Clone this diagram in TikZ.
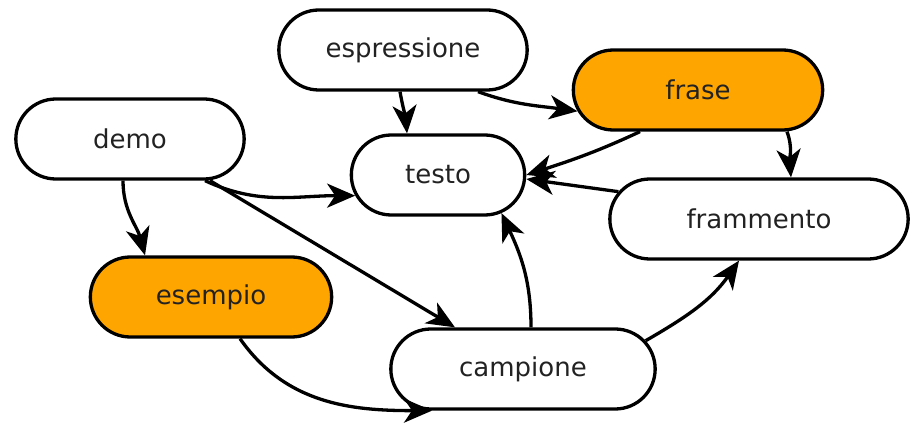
\documentclass[tikz,border=0pt]{standalone}
\usepackage{fontspec}
\setmainfont{DejaVu Sans}
\usetikzlibrary{arrows.meta,shapes.misc}
\definecolor{boxorange}{RGB}{255,165,0}
\definecolor{labelgray}{RGB}{34,34,34}

\begin{document}
\begin{tikzpicture}[x=1pt,y=1pt,
    word/.style={draw,line width=3.3pt,rounded rectangle,minimum height=80pt,
      text=labelgray,font=\fontsize{26}{31}\selectfont,fill=white},
    hot/.style={word,fill=boxorange},
    link/.style={line width=3.3pt,-{Stealth[length=28pt,width=24pt,inset=8pt]}}]
    \useasboundingbox (0,0) rectangle (910,426);% Page size

    \node[word,minimum width=255pt] (espr) at (403,376) {espressione};
    \node[hot,minimum width=256pt] (frase) at (698,336) {frase};
    \node[word,minimum width=235pt] (demo) at (130,287) {demo};
    \node[word,minimum width=180pt] (testo) at (438,251) {testo};
    \node[word,minimum width=305pt] (fram) at (759,207) {frammento};
    \node[hot,minimum width=248pt] (esempio) at (211,129) {esempio};
    \node[word,minimum width=271pt] (camp) at (523,57) {campione};

    % top part
    \draw [link] ([xshift=-3pt]espr.south) to[out=-80,in=95] ([xshift=-31pt]testo.north);
    \draw [link] ([xshift=75pt]espr.south) to[out=-20,in=172] (frase.190);
    \draw [link] ([xshift=-58pt]frase.south) to[out=-155,in=18] (testo.east);
    \draw [link] ([xshift=89pt]frase.south) to[out=-70,in=95] ([xshift=32pt]fram.north);
    \draw [link] (fram.169) -- ([yshift=-4pt]testo.east);

    % from demo
    \draw [link] ([xshift=75pt]demo.south) to[out=-25,in=180] (testo.194);
    \draw [link] ([xshift=80pt]demo.south) -- ([xshift=-68pt]camp.north);
    \draw [link] ([xshift=-7pt]demo.south) to[out=-90,in=105] ([xshift=-66pt]esempio.north);

    % bottom part
    \draw [link] ([xshift=29pt]esempio.south) to[out=-55,in=180] ([xshift=-91pt]camp.south);
    \draw [link] ([xshift=8pt]camp.north) to[out=90,in=-65] (testo.-31);
    \draw [link] (camp.13) to[out=30,in=-125] ([xshift=-20pt]fram.south);
\end{tikzpicture}
\end{document}
